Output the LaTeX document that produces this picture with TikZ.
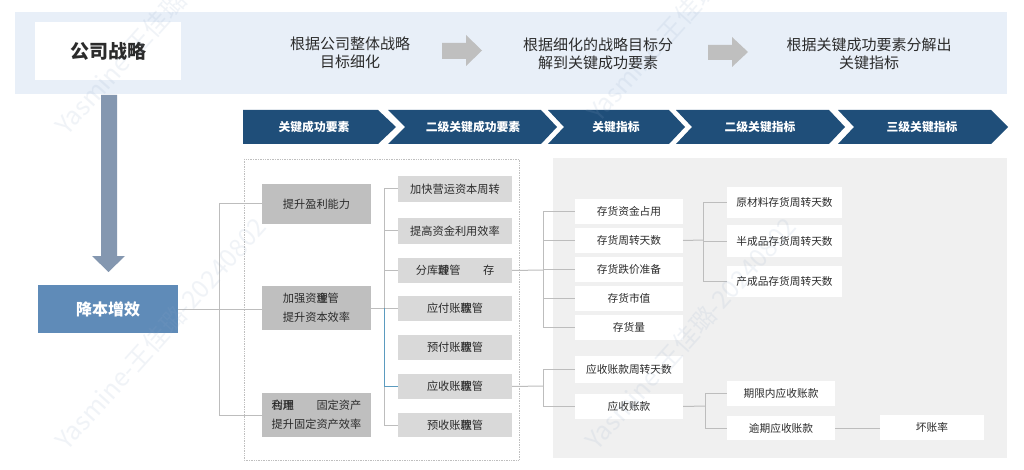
\documentclass[tikz,border=0pt]{standalone}
\usepackage{fontspec}
\setmainfont{Noto Sans CJK SC}
\definecolor{band}{HTML}{E8EFF8}
\definecolor{navy}{HTML}{1F4E79}
\definecolor{rootblue}{HTML}{5F8BB8}
\definecolor{slatearrow}{HTML}{8497B0}
\definecolor{txt}{HTML}{2B2B2B}
\definecolor{lvla}{HTML}{BFBFBF}
\definecolor{lvlb}{HTML}{D9D9D9}
\definecolor{panel}{HTML}{F0F0F0}
\definecolor{wire}{HTML}{BDBDBD}
\definecolor{wireblue}{HTML}{5B9BBF}
\definecolor{wmark}{HTML}{8FA8C8}
\newcommand\ovl[2]{\makebox[1em][c]{\rlap{#1}#2}}
% name, style, x1, y1, x2, y2, text
\newcommand\bx[7]{%
  \pgfmathsetmacro\bxw{#5-#3}\pgfmathsetmacro\bxh{#6-#4}%
  \pgfmathsetmacro\bxx{(#3+#5)/2}\pgfmathsetmacro\bxy{(#4+#6)/2}%
  \node[#2,minimum width=\bxw pt,minimum height=\bxh pt] (#1) at (\bxx,\bxy) {#7};}
\tikzset{
  boxbase/.style={inner sep=0pt,outer sep=0pt,text=txt,font=\fontsize{11.2}{19}\selectfont,align=left},
  boxa/.style={boxbase,fill=lvla},
  boxb/.style={boxbase,fill=lvlb},
  boxc/.style={boxbase,fill=white,font=\fontsize{10.7}{19}\selectfont},
  toptext/.style={inner sep=0pt,text=txt,font=\fontsize{15}{18.5}\selectfont,align=center},
  chevtext/.style={inner sep=0pt,text=white,font=\fontsize{11.8}{14}\selectfont\bfseries},
  chev/.style={fill=navy},
  grayarrow/.style={fill=lvla},
  wiring/.style={draw=wire,line width=1pt},
  wiringb/.style={draw=wireblue,line width=1pt},
  wm/.style={inner sep=0pt,anchor=west,rotate=48,text=wmark,opacity=.13,font=\fontsize{25}{25}\selectfont},
}
\begin{document}
\begin{tikzpicture}[x=1pt,y=-1pt]
\clip (0,0) rectangle (1024,470);
\fill[white] (0,0) rectangle (1024,470);
% top band
\fill[band] (15,12) rectangle (1007,94);
\bx{strategy}{inner sep=0pt,outer sep=0pt,fill=white,text=txt,font=\fontsize{19}{22}\selectfont\bfseries}{35}{22}{181}{80}{公司战略}
\node[toptext] (ta) at (350,53) {根据公司整体战略\\目标细化};
\node[toptext] (tb) at (598,54) {根据细化的战略目标分\\解到关键成功要素};
\node[toptext] (tc) at (869,54) {根据关键成功要素分解出\\关键指标};
\fill[grayarrow] (442,43) -- (466,43) -- (466,35) -- (482,50.5) -- (466,66) -- (466,59) -- (442,59) -- cycle;
\fill[grayarrow] (708,45) -- (732,45) -- (732,37) -- (748,52) -- (732,67) -- (732,60) -- (708,60) -- cycle;
% big down arrow
\fill[slatearrow] (101,95) -- (117,95) -- (117,256) -- (125,256) -- (108.5,272) -- (92,256) -- (101,256) -- cycle;
\bx{root}{inner sep=0pt,outer sep=0pt,fill=rootblue,text=white,font=\fontsize{16}{19}\selectfont\bfseries}{38}{285}{178}{333}{降本增效}
% chevrons
\fill[chev] (243,110) -- (378,110) -- (396,127) -- (378,144) -- (243,144) -- cycle;
\fill[chev] (388,110) -- (541,110) -- (557,127) -- (541,144) -- (388,144) -- (405,127) -- cycle;
\fill[chev] (548,110) -- (669,110) -- (685,127) -- (669,144) -- (548,144) -- (564,127) -- cycle;
\fill[chev] (676,110) -- (829,110) -- (845,127) -- (829,144) -- (676,144) -- (692,127) -- cycle;
\fill[chev] (838,110) -- (991,110) -- (1008,127) -- (991,144) -- (838,144) -- (854,127) -- cycle;
\node[chevtext] (ca) at (314,127) {关键成功要素};
\node[chevtext] (cb) at (473,127) {二级关键成功要素};
\node[chevtext] (cc) at (616,127) {关键指标};
\node[chevtext] (cd) at (760,127) {二级关键指标};
\node[chevtext] (ce) at (922,127) {三级关键指标};
% containers
\fill[panel] (553,158) rectangle (1007,458);
\draw[draw=lvla,line width=.7pt,densely dotted] (244,159) rectangle (519,460);
% level 1
\bx{la}{boxa}{262}{184}{371}{224}{提升盈利能力}
\bx{lb}{boxa}{262}{286}{371}{330}{加强资\ovl{金}{理}管\\提升资本效率}
\bx{lc}{boxa}{262}{393}{371}{437}{\ovl{合}{利}\ovl{理}{用}\hspace{2em}固定资产\\提升固定资产效率}
% level 2
\bx{ma}{boxb}{398}{176}{512}{202}{加快营运资本周转}
\bx{mb}{boxb}{398}{218}{512}{244}{提高资金利用效率}
\bx{mc}{boxb}{398}{258}{512}{283}{分库\ovl{龄}{理}管\hspace{2em}存}
\bx{md}{boxb}{398}{296}{512}{321}{应付账\ovl{款}{理}管}
\bx{me}{boxb}{398}{335}{512}{360}{预付账\ovl{款}{理}管}
\bx{mf}{boxb}{398}{374}{512}{399}{应收账\ovl{款}{理}管}
\bx{mg}{boxb}{398}{413}{512}{437}{预收账\ovl{款}{理}管}
% indicators
\bx{ka}{boxc}{575}{199}{683}{224}{存货资金占用}
\bx{kb}{boxc}{575}{228}{683}{253}{存货周转天数}
\bx{kc}{boxc}{575}{257}{683}{282}{存货跌价准备}
\bx{kd}{boxc}{575}{286}{683}{311}{存货市值}
\bx{ke}{boxc}{575}{315}{683}{340}{存货量}
\bx{kf}{boxc}{575}{356}{683}{383}{应收账款周转天数}
\bx{kg}{boxc}{575}{394}{683}{419}{应收账款}
\bx{na}{boxc}{727}{187}{842}{218}{原材料存货周转天数}
\bx{nb}{boxc}{727}{225}{842}{257}{半成品存货周转天数}
\bx{nc}{boxc}{727}{266}{842}{297}{产成品存货周转天数}
\bx{nd}{boxc}{727}{381}{835}{406}{期限内应收账款}
\bx{ne}{boxc}{727}{416}{835}{440}{逾期应收账款}
\bx{oa}{boxc}{880}{415}{984}{440}{坏账率}
% bus points
\coordinate (busa) at (219,309);
\coordinate (busb) at (384,308);
\coordinate (busc) at (543.5,270);
\coordinate (busd) at (703,240);
\coordinate (buse) at (543.5,386);
\coordinate (busf) at (705,406);
% wiring
\draw[wiring] (root.east) -- (busa);
\draw[wiring] (busa) |- (la.west);
\draw[wiring] (busa) -- (busa -| lb.west);
\draw[wiring] (busa) |- (lc.west);
\draw[wiring] (lb.east |- busb) -- (busb);
\foreach \t in {ma,mb,mc} \draw[wiring] (busb) |- (\t.west);
\draw[wiring] (busb) -- (busb -| md.west);
\draw[wiring] (busb) |- (mg.west);
\draw[wiringb] (busb) |- (mf.west);
\draw[wiring] (mc.east) -- (busc);
\foreach \t in {ka,kb,kc,kd,ke} \draw[wiring] (busc) |- (\t.west);
\draw[wiring] (kb.east) -- (busd);
\foreach \t in {na,nb,nc} \draw[wiring] (busd) |- (\t.west);
\draw[wiring] (mf.east) -- (buse);
\foreach \t in {kf,kg} \draw[wiring] (buse) |- (\t.west);
\draw[wiring] (kg.east) -- (busf);
\foreach \t in {nd,ne} \draw[wiring] (busf) |- (\t.west);
\draw[wiring] (ne.east) -- (ne.east -| oa.west);
% watermarks
\node[wm] (wa) at (60,130) {Yasmine-王佳璐-20240802};
\node[wm] (wb) at (592,117) {Yasmine-王佳璐-20240802};
\node[wm] (wc) at (60,445) {Yasmine-王佳璐-20240802};
\node[wm] (wd) at (590,445) {Yasmine-王佳璐-20240802};
\end{tikzpicture}
\end{document}
